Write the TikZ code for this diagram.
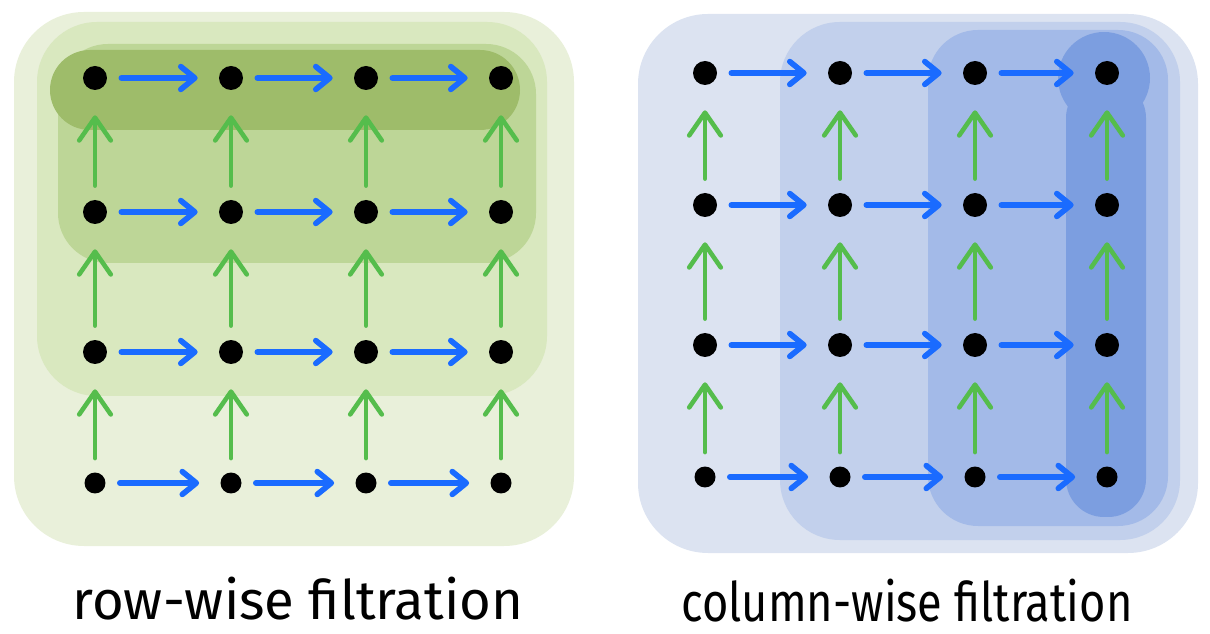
\documentclass[tikz,border=0pt]{standalone}
\usepackage{graphicx}
\usepackage{fontspec}
\newfontfamily\handfont{Fira Sans}
\usetikzlibrary{arrows.meta}
\definecolor{leafA}{HTML}{E9F0DA}
\definecolor{leafB}{HTML}{D9E8BF}
\definecolor{leafC}{HTML}{BDD697}
\definecolor{leafD}{HTML}{9EBC6A}
\definecolor{skyA}{HTML}{DCE3F1}
\definecolor{skyB}{HTML}{C2D0EC}
\definecolor{skyC}{HTML}{A3BAE8}
\definecolor{skyD}{HTML}{7C9EE0}
\definecolor{arrowblue}{HTML}{1A6BFF}
\definecolor{arrowgreen}{HTML}{55BD4C}

\begin{document}
\begin{tikzpicture}[x=0.02cm, y=-0.02cm,
  dot/.style={circle, fill=black, inner sep=0pt, minimum size=0.48cm},
  smalldot/.style={dot, minimum size=0.42cm},
  rowarrow/.style={draw=arrowblue, line width=3.2pt, line cap=round,
    -{Straight Barb[length=8pt, width=13pt, round]},
    shorten <=0.28cm, shorten >=0.42cm},
  colarrow/.style={draw=arrowgreen, line width=2.6pt, line cap=round,
    -{Straight Barb[length=13pt, width=18pt, round]},
    shorten <=0.28cm, shorten >=0.5cm},
  caption/.style={font=\handfont\fontsize{31}{33}\selectfont, anchor=base}]

% Frame
\useasboundingbox (0,0) rectangle (1210,634);

% ================================================================
% Row-wise filtration (left)
% ================================================================
\fill[leafA, rounded corners=1.4cm] (14,12) rectangle (574,546);
\fill[leafB, rounded corners=1.2cm] (37,22) rectangle (547,396);
\fill[leafC, rounded corners=1cm] (58,44) rectangle (536,263);
\fill[leafD, rounded corners=0.8cm] (50,50) rectangle (520,130);

% Grid points
\foreach \c/\x in {1/95,2/231,3/366,4/501}{
  \foreach \r/\y in {1/78,2/212,3/352}
    \node[dot] (L\r\c) at (\x,\y) {};
  \node[smalldot] (L4\c) at (\x,483) {};
}

% Arrows
\foreach \r in {1,...,4}
  \foreach \c/\n in {1/2,2/3,3/4}
    \draw[rowarrow] (L\r\c) -- (L\r\n);
\foreach \c in {1,...,4}
  \foreach \r/\u in {2/1,3/2,4/3}
    \draw[colarrow] (L\r\c) -- (L\u\c);

\node[caption] (rowcap) at (298,619) {row-wise filtration};

% ================================================================
% Column-wise filtration (right)
% ================================================================
\fill[skyA, rounded corners=1.4cm] (638,14) rectangle (1198,553);
\fill[skyB, rounded corners=1.2cm] (780,22) rectangle (1180,540);
\fill[skyC, rounded corners=1cm] (928,30) rectangle (1168,526);
\fill[skyD] (1104,78) circle[radius=0.92cm];
\fill[skyD, rounded corners=0.76cm] (1066,80) rectangle (1146,517);

% Grid points
\foreach \c/\x in {1/705,2/840,3/975,4/1107}{
  \foreach \r/\y in {1/73,2/205,3/345}
    \node[dot] (R\r\c) at (\x,\y) {};
  \node[smalldot] (R4\c) at (\x,477) {};
}

% Arrows
\foreach \r in {1,...,4}
  \foreach \c/\n in {1/2,2/3,3/4}
    \draw[rowarrow] (R\r\c) -- (R\r\n);
\foreach \c in {1,...,4}
  \foreach \r/\u in {2/1,3/2,4/3}
    \draw[colarrow] (R\r\c) -- (R\u\c);

\node[caption] (colcap) at (907,621) {\scalebox{0.83}[1]{column-wise filtration}};

\end{tikzpicture}
\end{document}
